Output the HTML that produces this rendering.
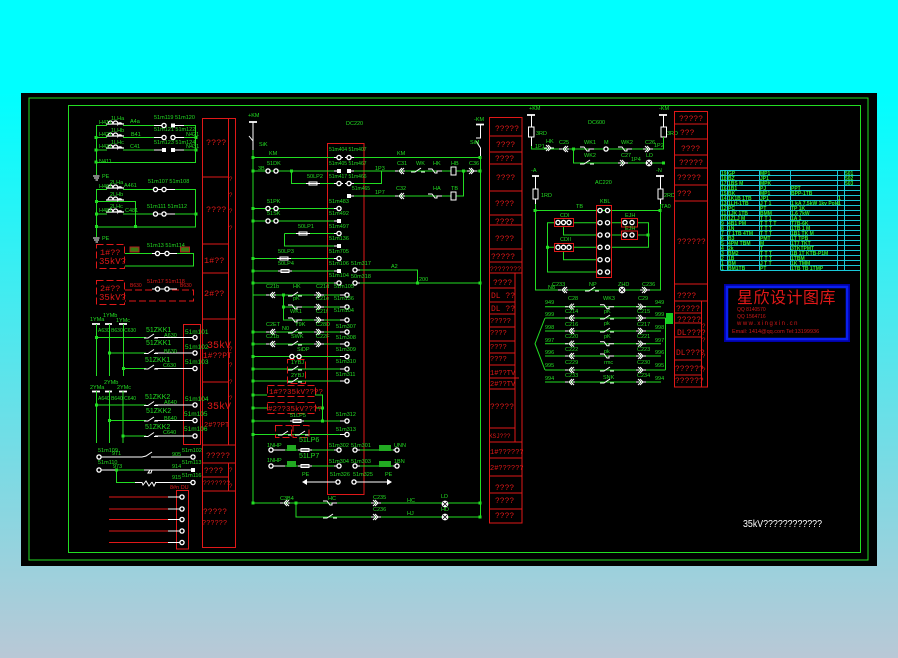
<!DOCTYPE html>
<html><head><meta charset="utf-8"><style>
html,body{margin:0;padding:0;width:898px;height:658px;overflow:hidden}
svg{display:block}
.g{stroke:#22dd22;fill:none;stroke-width:1}
.w{stroke:#fff;fill:none;stroke-width:1}
.r{stroke:#e01818;fill:none;stroke-width:1}
.d{stroke-dasharray:7 3}
text{font-family:"Liberation Sans","Noto Sans CJK SC",sans-serif;stroke:none}
.tg text,text.tg{fill:#22dd22;font-size:5.5px}
.tr text,text.tr{fill:#e01818;font-size:8.5px;font-family:"Liberation Mono",monospace}
</style></head><body>
<svg width="898" height="658" viewBox="0 0 898 658" xmlns="http://www.w3.org/2000/svg">
<defs>
<linearGradient id="bg" x1="0" y1="0" x2="0" y2="1"><stop offset="0" stop-color="#00ffff"/><stop offset=".14" stop-color="#00ffff"/><stop offset="1" stop-color="#b9c8d6"/></linearGradient>
<g id="t"><circle r="2.1" fill="#000" stroke="#fff" stroke-width="1.3"/></g>
<g id="q"><rect x="-2" y="-2" width="4" height="4" fill="#fff"/></g>
<g id="n"><rect x="-1.5" y="-1.5" width="3" height="3" fill="#22dd22"/></g>
<g id="c" class="w"><path d="M-5 0H-2M2 -3L-1 0L2 3M4 -3L1 0L4 3M3 0H5"/></g>
<g id="a" class="w"><path d="M-5 0H-2M-3 -3L0 0L-3 3M-1 -3L2 0L-1 3M1 0H5"/></g>
<g id="s" class="w"><path d="M-7 1H-3L3 -3M3 1H7"/></g>
<g id="b" class="w"><path d="M-7 -2H-3L0 2H2V0H7"/></g>
<g id="f" class="w"><rect x="-4" y="-1.5" width="8" height="3" fill="#000"/><path d="M-7 0H7"/></g>
<g id="k" class="w"><path d="M-9 0H9M-7 0A2.5 3 0 0 1 -2 0A2.5 3 0 0 1 3 0A2.5 3 0 0 1 7 0" stroke-width="1.3"/></g>
<g id="l"><circle r="3.4" fill="#fff"/><path d="M-2 -2L2 2M-2 2L2 -2" stroke="#000" stroke-width=".8"/></g>
</defs>
<rect width="898" height="658" fill="url(#bg)"/>
<rect x="21" y="93" width="856" height="473" fill="#000"/>
<rect x="29" y="98" width="839" height="462" class="g"/>
<rect x="68.5" y="105.5" width="792" height="447" class="g"/>

<path class="r" d="M202.5 118.5H235.5V547.5H202.5ZM228.5 118.5V445M202 177H228M202 244H228M202 273H228M202 319H235M202 382H228M202 445H235M202 463H235M202 477H228M202 491H235M228.5 463V491"/>
<g class="tr">
<text x="206" y="145">????</text><text x="206" y="212">????</text><text x="204" y="263">1#??</text><text x="204" y="296">2#??</text>
<text x="207" y="348" style="font-size:10px">35kV</text><text x="203" y="358" style="font-size:8px">1#??PT</text>
<text x="207" y="409" style="font-size:10px">35kV</text><text x="204" y="427" style="font-size:7px">2#??PT</text>
<text x="206" y="458" style="font-size:8px">?????</text><text x="204" y="473" style="font-size:8px">????</text><text x="203" y="485" style="font-size:6.5px">???????</text>
<text x="203" y="514" style="font-size:8px">?????</text><text x="202" y="525" style="font-size:7px">??????</text>
<text x="229" y="181" style="font-size:6px">?</text><text x="229" y="197" style="font-size:6px">?</text><text x="229" y="213" style="font-size:6px">?</text><text x="229" y="230" style="font-size:6px">?</text>
<text x="229" y="351" style="font-size:6px">?</text><text x="229" y="367" style="font-size:6px">?</text><text x="229" y="384" style="font-size:6px">?</text><text x="229" y="400" style="font-size:6px">?</text>
<text x="229" y="472" style="font-size:6px">?</text><text x="229" y="488" style="font-size:6px">?</text>
</g>

<path class="g" d="M96.5 125.5V175M96 125.5H107M123 125.5H154M184 125.5H195.5V162.5H96M96 137.5H107M123 137.5H154M184 137.5H196M96 150H107M123 150H154M184 150H196"/>
<use href="#k" x="115" y="124"/><use href="#k" x="115" y="136"/><use href="#k" x="115" y="148"/>
<path class="w" d="M154 125.5H164M173 125.5H184M154 137.5H164M173 137.5H184M154 150H164M173 150H184M93 176H99.5M94 178H99M95.5 180H98" stroke-width="1.2"/>
<use href="#t" x="164" y="125.5"/><use href="#q" x="173" y="125.5"/><use href="#t" x="164" y="137.5"/><use href="#t" x="173" y="137.5"/><use href="#q" x="164" y="150"/><use href="#q" x="173" y="150"/>
<use href="#n" x="96" y="137.5"/><use href="#n" x="96" y="150"/><use href="#n" x="96" y="162"/><use href="#n" x="196" y="137.5"/><use href="#n" x="196" y="150"/>
<g class="tg">
<text x="111" y="120">1LHa</text><text x="99" y="124">H411</text><text x="130" y="123">A4a</text><text x="154" y="119">51m119 51m120</text>
<text x="111" y="132">1LHb</text><text x="99" y="136">H421</text><text x="131" y="136">B41</text><text x="154" y="131">51m121 51m122</text>
<text x="111" y="144">1LHc</text><text x="99" y="148">H431</text><text x="130" y="148">C41</text><text x="154" y="144">51m123 51m124</text>
<text x="99" y="163">N411</text><text x="102" y="178">PE</text>
<text x="186" y="136">N421</text><text x="186" y="148">N431</text>
</g>

<path class="g" d="M96.5 189.5V237M96 189.5H107M123 189.5H155M173 189.5H195.5V227H96M96 201.5H135.5V227M96 214H107M123 214H155M173 214H196"/>
<use href="#k" x="115" y="188"/><use href="#k" x="115" y="200"/><use href="#k" x="115" y="212"/>
<path class="w" d="M155 189.5H175M155 214H175M93 238H99.5M94 240H99M95.5 242H98" stroke-width="1.2"/>
<use href="#t" x="155.500" y="189.500"/><use href="#t" x="164" y="189.500"/><use href="#t" x="155.500" y="214"/><use href="#t" x="164" y="214"/>
<use href="#n" x="96.500" y="201.500"/><use href="#n" x="96.500" y="214"/><use href="#n" x="96.500" y="226.500"/><use href="#n" x="135.500" y="226.500"/><use href="#n" x="196" y="214"/>
<g class="tg">
<text x="110" y="184">2LHa</text><text x="99" y="188">H461</text><text x="124" y="187">A461</text><text x="148" y="183">51m107 51m108</text>
<text x="110" y="196">2LHb</text><text x="110" y="208">2LHc</text><text x="99" y="212">H481</text><text x="125" y="212">C481</text><text x="147" y="208">51m111 51m112</text>
<text x="102" y="240">PE</text>
</g>

<rect x="96.500" y="244.500" width="28" height="24" class="r d"/>
<rect x="96.500" y="280.500" width="28" height="24" class="r d"/>
<path class="g" d="M125 253.500H152M172 253.500H193.500V266H125"/>
<path class="r d" d="M125 290H152M172 290H193.500V301H125"/>
<path class="w" d="M152 253.500H177M152 289H177"/>
<use href="#t" x="157.500" y="253.500"/><use href="#t" x="167" y="253.500"/><use href="#t" x="157.500" y="289"/><use href="#t" x="167" y="289"/>
<rect x="130" y="247" width="9" height="5" fill="#3a7a10" stroke="#b02020"/><rect x="180.500" y="247" width="9" height="5" fill="#3a7a10" stroke="#b02020"/>
<g class="tr">
<text x="100" y="255" style="font-size:8.500px">1#??</text><text x="99" y="264" style="font-size:9px">35kV?</text>
<text x="100" y="291" style="font-size:8.500px">2#??</text><text x="99" y="300" style="font-size:9px">35kV?</text>
</g>
<text class="tg" x="147" y="247">51m13 51m114</text>
<text x="147" y="283" fill="#e01818" style="font-size:5.500px">51m17 51m118</text>
<text x="130" y="287" fill="#e01818" style="font-size:5px">B630</text><text x="180" y="287" fill="#e01818" style="font-size:5px">B630</text>

<rect x="183.500" y="324.500" width="17" height="120" class="r"/>
<path stroke="#fff" stroke-width="1.800" fill="none" d="M92 324H100M105 324H112M119 324H127M92 391.500H100M105 391.500H112M119 391.500H127"/>
<path class="g" d="M96.500 324V376M109.500 324V376M123.500 324V376M96.500 337.500H146M109.500 353H146M123.500 368.500H146M96.500 391V443M109.500 391V443M123 391V443M96.500 405H146M109.500 420.500H146M123 436H146"/>
<path class="w" d="M155 337.500H193M155 353H193M155 368.500H193M155 405H193M155 420.500H193M155 436H193"/>
<use href="#s" x="151" y="337"/><use href="#s" x="151" y="352.500"/><use href="#s" x="151" y="368"/><use href="#s" x="151" y="404.500"/><use href="#s" x="151" y="420"/><use href="#s" x="151" y="435.500"/>
<use href="#t" x="195" y="337.500"/><use href="#t" x="195" y="353"/><use href="#t" x="195" y="368.500"/><use href="#t" x="195" y="405"/><use href="#t" x="195" y="420.500"/><use href="#t" x="195" y="436"/>
<use href="#n" x="96.500" y="337.500"/><use href="#n" x="109.500" y="353"/><use href="#n" x="123.500" y="368.500"/><use href="#n" x="96.500" y="405"/><use href="#n" x="109.500" y="420.500"/><use href="#n" x="123" y="436"/>
<g class="tg">
<text x="90" y="321">1YMa</text><text x="103" y="317">1YMb</text><text x="116" y="322">1YMc</text>
<text x="98" y="332" style="font-size:5px">A630 B630 C630</text>
<text x="90" y="389">2YMa</text><text x="104" y="384">2YMb</text><text x="117" y="389">2YMc</text>
<text x="98" y="400" style="font-size:5px">A640 B640 C640</text>
<text x="146" y="332" style="font-size:7px">51ZKK1</text><text x="146" y="345" style="font-size:7px">51ZKK1</text><text x="145" y="362" style="font-size:7px">51ZKK1</text>
<text x="164" y="337">A630</text><text x="164" y="353">B630</text><text x="163" y="367">C630</text>
<text x="185" y="334" style="font-size:6.500px">51m101</text><text x="185" y="349" style="font-size:6.500px">51m102</text><text x="185" y="364" style="font-size:6.500px">51m103</text>
<text x="145" y="399" style="font-size:7px">51ZKK2</text><text x="146" y="413" style="font-size:7px">51ZKK2</text><text x="145" y="429" style="font-size:7px">51ZKK2</text>
<text x="164" y="404">A640</text><text x="164" y="420">B640</text><text x="163" y="434">C640</text>
<text x="185" y="401" style="font-size:6.500px">51m104</text><text x="184" y="416" style="font-size:6.500px">51m105</text><text x="184" y="431" style="font-size:6.500px">51m106</text>
</g>

<path class="w" d="M99 457H142L146 456L152 452M151 457H193M99 470H116M144 470H193M116 482.500H136M155 482.500H193"/>
<path class="g" d="M116.500 470V482.500H135M116 470H144"/>
<path class="w" d="M144 470H150L148 473H151L152 470M136 482.500H142L143 485L146 481L149 486L152 482M152 482L154 486L156 482"/>
<use href="#t" x="99" y="457"/><use href="#t" x="99" y="470"/><use href="#t" x="193" y="457"/><use href="#q" x="193" y="470"/><use href="#t" x="193" y="482.500"/><use href="#n" x="116.500" y="470"/>
<g class="tg">
<text x="98" y="452">51m109</text><text x="112" y="455">971</text><text x="98" y="464">51m110</text><text x="113" y="468">973</text>
<text x="172" y="456">905</text><text x="172" y="468">914</text><text x="172" y="479">915</text>
<text x="182" y="452">51m102</text><text x="182" y="464">51m113</text><text x="182" y="477">51m116</text>
</g>

<rect x="176.500" y="490.500" width="12" height="58.500" class="r"/>
<path class="r" d="M109 497H168M109 509H168M109 519.500H168M109 531H168M109 542.500H168"/>
<path class="w" d="M168 497H181M168 509H181M168 519.500H181M168 531H181M168 542.500H181"/>
<use href="#t" x="182" y="497"/><use href="#t" x="182" y="509"/><use href="#t" x="182" y="519.500"/><use href="#t" x="182" y="531"/><use href="#t" x="182" y="542.500"/>
<text x="170" y="489" fill="#e01818" style="font-size:5.500px">8#n DU</text>

<rect x="327.500" y="143.500" width="36.500" height="351" class="r"/>
<path stroke="#fff" stroke-width="1.800" d="M249 122H257M476 124.500H484"/>
<path class="w" d="M253 122V141L249 136M253 141V150M480.500 124.500V138H476M476 141L480.500 148V157"/>
<path class="g" d="M253 150V503M480.500 157V517"/>
<g class="g">
<path d="M253 157.500H334M354 157.500H480M253 171H334M354 171H480M291.500 171V183.500H334M354 183.500H381.500V171M354 196H463.500V171M253 208.500H334M253 221H334M284.500 233.500H334M284.500 233.500V246H334M253 258.500H334M253 271H334M253 283H334M360 270H417.500V283M360 283H480M253 295H340M283.500 295V320H340M283.500 307H340M253 332H340M253 344H340M253 356.500H340M253 369H340M253 381H340M253 395H267M253 408H267M315 395H322.500V421M315 408H322.500M253 421H340M253 434.500H340M253 503H480M296 503V517H480"/>
<path d="M285 450H334M360 450H393M285 466H334M360 466H393"/>
</g>
<path class="w" d="M334 157.500H343M345 157.500H354M334 171H339M349 171H354M334 183.500H343M345 183.500H354M349 196H354M334 208.500H339M334 221H339M334 233.500H339M334 246H339M334 258.500H339M334 271H339M334 283H339M355 270H360M355 283H360M340 295H347M340 307H347M340 320H347M340 332H347M340 344H347M340 356.500H347M340 369H347M340 381H347M340 421H347M340 434.500H347M334 450H339M355 450H360M334 466H339M355 466H360M271 450H285M271 466H285M393 450H397M393 466H397M303 482H338M354 482H391"/>
<use href="#t" x="339" y="157.500"/><use href="#t" x="349" y="157.500"/><use href="#q" x="339" y="171"/><use href="#q" x="349" y="171"/><use href="#t" x="339" y="183.500"/><use href="#t" x="349" y="183.500"/><use href="#q" x="349" y="196"/>
<use href="#t" x="339" y="208.500"/><use href="#q" x="339" y="221"/><use href="#t" x="339" y="233.500"/><use href="#q" x="339" y="246"/><use href="#t" x="339" y="258.500"/><use href="#q" x="339" y="271"/><use href="#t" x="339" y="283"/><use href="#t" x="355" y="270"/><use href="#t" x="355" y="283"/>
<use href="#t" x="347" y="295"/><use href="#t" x="347" y="307"/><use href="#t" x="347" y="320"/><use href="#t" x="347" y="332"/><use href="#t" x="347" y="344"/><use href="#t" x="347" y="356.500"/><use href="#t" x="347" y="369"/><use href="#t" x="347" y="381"/><use href="#t" x="347" y="421"/><use href="#t" x="347" y="434.500"/>
<use href="#t" x="339" y="450"/><use href="#t" x="355" y="450"/><use href="#t" x="339" y="466"/><use href="#t" x="355" y="466"/><use href="#t" x="271" y="450"/><use href="#t" x="397" y="450"/><use href="#t" x="271" y="466"/><use href="#t" x="397" y="466"/><use href="#t" x="338" y="482"/><use href="#t" x="354" y="482"/>
<path fill="#fff" d="M302 482L307 479V485ZM392 482L387 479V485Z"/>
<use href="#t" x="268" y="171"/><use href="#t" x="276" y="171"/><use href="#t" x="268" y="208.500"/><use href="#t" x="276" y="208.500"/><use href="#t" x="268" y="221"/><use href="#t" x="276" y="221"/><use href="#t" x="292" y="356.500"/><use href="#t" x="299" y="356.500"/>
<use href="#c" x="400" y="171"/><use href="#s" x="418" y="171"/><use href="#b" x="435" y="171"/><rect x="451" y="167" width="5" height="8" fill="#000" stroke="#fff"/><use href="#a" x="472" y="171"/>
<use href="#c" x="400" y="196"/><use href="#b" x="435" y="196"/><rect x="451" y="192" width="5" height="8" fill="#000" stroke="#fff"/>
<use href="#f" x="313" y="183.500"/><use href="#f" x="303" y="233.500"/><use href="#f" x="284" y="258.500"/><use href="#f" x="285" y="271"/>
<use href="#c" x="271" y="295"/><use href="#s" x="295" y="295"/><use href="#a" x="319" y="295"/><use href="#b" x="295" y="307"/><use href="#a" x="319" y="307"/><use href="#b" x="295" y="320"/><use href="#a" x="319" y="320"/>
<use href="#c" x="271" y="332"/><use href="#s" x="295" y="332"/><use href="#a" x="319" y="332"/><use href="#c" x="271" y="344"/><use href="#s" x="295" y="344"/><use href="#a" x="319" y="344"/>
<use href="#s" x="295" y="369"/><use href="#s" x="295" y="381"/><use href="#f" x="297" y="421"/><use href="#f" x="305" y="450"/><use href="#f" x="305" y="466"/>
<use href="#s" x="285" y="434"/><use href="#s" x="302" y="434"/>
<use href="#c" x="285" y="503"/><use href="#b" x="330" y="503"/><use href="#s" x="330" y="517"/><use href="#a" x="376" y="503"/><use href="#a" x="376" y="517"/><use href="#l" x="445" y="504"/><use href="#l" x="445" y="517"/>
<g fill="#22dd22"><use href="#n" x="253" y="157.500"/><use href="#n" x="253" y="171"/><use href="#n" x="291.500" y="171"/><use href="#n" x="463.500" y="171"/><use href="#n" x="480" y="171"/><use href="#n" x="480" y="157.500"/><use href="#n" x="253" y="208.500"/><use href="#n" x="253" y="221"/><use href="#n" x="253" y="258.500"/><use href="#n" x="253" y="271"/><use href="#n" x="253" y="283"/><use href="#n" x="417.500" y="283"/><use href="#n" x="480" y="283"/><use href="#n" x="283.500" y="295"/><use href="#n" x="283.500" y="307"/><use href="#n" x="253" y="332"/><use href="#n" x="253" y="344"/><use href="#n" x="253" y="356.500"/><use href="#n" x="253" y="369"/><use href="#n" x="253" y="381"/><use href="#n" x="253" y="395"/><use href="#n" x="253" y="408"/><use href="#n" x="322.500" y="408"/><use href="#n" x="322.500" y="421"/><use href="#n" x="253" y="421"/><use href="#n" x="253" y="434.500"/><use href="#n" x="253" y="503"/><use href="#n" x="296" y="503"/><use href="#n" x="480" y="503"/><use href="#n" x="480" y="517"/></g>
<rect x="287.500" y="359.500" width="18" height="24" class="r d"/>
<rect x="267.500" y="385.500" width="48" height="11" class="r d"/>
<rect x="267.500" y="402.500" width="48" height="11" class="r d"/>
<rect x="275.500" y="425.500" width="16" height="12" class="r d"/><rect x="293" y="425.500" width="16" height="12" class="r d"/>
<g class="tr">
<text x="269" y="394" style="font-size:7.500px">1#??35kV????</text>
<text x="268" y="411" style="font-size:7.500px">#2??35kV????</text>
</g>
<rect x="287" y="445" width="9" height="6" fill="#22aa22"/><rect x="287" y="461" width="9" height="6" fill="#22aa22"/><rect x="379" y="445" width="12" height="6" fill="#22aa22"/><rect x="379" y="461" width="12" height="6" fill="#22aa22"/>
<g class="tg">
<text x="346" y="125">DC220</text><text x="259" y="146">SiK</text><text x="248" y="117">+KM</text><text x="474" y="121">-KM</text><text x="470" y="144">SiM</text>
<text x="269" y="155">KM</text><text x="397" y="155">KM</text><text x="258" y="170">3B</text><text x="267" y="165">51DK</text>
<text x="329" y="151" style="font-size:5px">51m404 51m407</text><text x="329" y="165" style="font-size:5px">51m405 51m467</text><text x="307" y="178">50LP2</text><text x="329" y="178" style="font-size:5px">51m417 51m466</text><text x="352" y="190" style="font-size:5px">51m465</text>
<text x="375" y="170">1P3</text><text x="375" y="194">1P7</text>
<text x="397" y="165">C31</text><text x="416" y="165">WK</text><text x="433" y="165">HK</text><text x="451" y="165">HB</text><text x="469" y="165">C36</text>
<text x="396" y="190">C32</text><text x="433" y="190">HA</text><text x="451" y="190">TB</text>
<text x="267" y="203">51PK</text><text x="267" y="215">51SK</text><text x="329" y="203">51m483</text><text x="329" y="215">51m492</text><text x="329" y="228">51m497</text><text x="329" y="240">51m136</text>
<text x="298" y="228">50LP1</text><text x="278" y="253">50LP3</text><text x="278" y="265">50LP4</text><text x="329" y="253">51m705</text><text x="329" y="265">51m106</text><text x="329" y="277">51m104</text>
<text x="351" y="265">51m317</text><text x="351" y="278">50m318</text><text x="391" y="268">A2</text><text x="419" y="281">200</text>
<text x="266" y="288">C21b</text><text x="293" y="288">HK</text><text x="316" y="288">C21d</text><text x="334" y="288">51m105</text><text x="334" y="300">51m136</text><text x="334" y="312">51m104</text>
<text x="293" y="300">pK</text><text x="316" y="300">C21e</text><text x="290" y="313">WK1</text><text x="316" y="313">C21f</text>
<text x="266" y="326">C2ET</text><text x="282" y="330">N0</text><text x="295" y="326">Y9K</text><text x="316" y="326">C28D</text><text x="336" y="328">51m307</text>
<text x="266" y="338">C21b</text><text x="291" y="338">SWK</text><text x="316" y="338">C22F</text><text x="336" y="339">51m308</text>
<text x="297" y="351">SiDP</text><text x="336" y="351">51m309</text><text x="336" y="363">51m310</text><text x="336" y="376">51m311</text>
<text x="291" y="364">1YBJ</text><text x="291" y="377">2YBJ</text>
<text x="290" y="417">51LP5</text><text x="336" y="416">51m312</text><text x="336" y="431">51m313</text>
<text x="299" y="442" style="font-size:7px">51LP6</text><text x="299" y="458" style="font-size:7px">51LP7</text>
<text x="267" y="447">1NHP</text><text x="267" y="462">1NHP</text><text x="329" y="447">51m302</text><text x="351" y="447">51m301</text><text x="329" y="463">51m304</text><text x="351" y="463">51m303</text>
<text x="394" y="447">UNN</text><text x="394" y="463">1BN</text>
<text x="302" y="476">PE</text><text x="330" y="476">51m326</text><text x="353" y="476">51m325</text><text x="385" y="476">PE</text>
<text x="280" y="500">C3B4</text><text x="328" y="500">HC</text><text x="373" y="499">C235</text><text x="373" y="511">C236</text><text x="407" y="502">HC</text><text x="407" y="515">HJ</text><text x="441" y="498">LD</text><text x="441" y="511">HD</text>
</g>

<path class="r" d="M489.500 117.500H522V523H489.500ZM489 136H522M489 152H522M489 164H522M489 191H522M489 215H522M489 225H522M489 249H522M489 262H522M489 273H522M489 288H515M489 302H515M489 314H515M489 327H515M489 341H515M489 353H515M489 365H515M489 378H519M489 389H515M489 428H515M489 442H522M489 458H522M489 476H522M489 493H522M489 509H522M515 273V442"/>
<g class="tr">
<text x="495" y="131" style="font-size:8px">?????</text><text x="496" y="147" style="font-size:8px">????</text><text x="495" y="161" style="font-size:8px">????</text><text x="496" y="180" style="font-size:8px">????</text><text x="495" y="206" style="font-size:8px">????</text><text x="495" y="224" style="font-size:8px">????</text><text x="495" y="241" style="font-size:8px">????</text>
<text x="491" y="259" style="font-size:8px">?????</text><text x="490" y="271" style="font-size:6.500px">????????</text><text x="493" y="285" style="font-size:8px">????</text><text x="491" y="298" style="font-size:8px">DL ??</text><text x="491" y="311" style="font-size:8px">DL ??</text>
<text x="490" y="323" style="font-size:7px">?????</text><text x="490" y="335" style="font-size:7px">????</text><text x="490" y="349" style="font-size:7px">????</text><text x="490" y="361" style="font-size:7px">????</text><text x="490" y="375" style="font-size:7px">1#??TV</text><text x="490" y="386" style="font-size:7px">2#??TV</text><text x="490" y="409" style="font-size:8px">?????</text><text x="489" y="438" style="font-size:6px">KSJ???</text><text x="490" y="454" style="font-size:7px">1#??????</text><text x="490" y="470" style="font-size:7px">2#??????</text><text x="495" y="490" style="font-size:8px">????</text><text x="495" y="503" style="font-size:8px">????</text><text x="495" y="518" style="font-size:8px">????</text>
</g>

<path stroke="#fff" stroke-width="1.800" d="M527 115H535M659 115H667M532 176H539M656 176H664"/>
<path class="w" d="M531.500 115V127M531.500 137V146M663.500 115V127M663.500 137V142M535.500 176V189M535.500 199V204M660.500 176V189M660.500 199V204"/>
<rect x="528.500" y="127" width="5.500" height="10" fill="#000" stroke="#fff"/><rect x="661" y="127" width="5.500" height="10" fill="#000" stroke="#fff"/><rect x="533" y="189" width="5" height="10" fill="#000" stroke="#fff"/><rect x="658" y="189" width="5" height="10" fill="#000" stroke="#fff"/>
<path class="g" d="M531.500 146V149H663.500V137M573.500 149V163H663.500M535.500 204V290H660.500V204M535 210.500H660M573 222.700H596M563.500 226V235H596M573 247.300H596M563.500 252V259.700H596M547.500 222.700V272H596M547 222.700H554M547 247.300H554M611 222.700H621M611 235H621M611 247.300H648.500V222.700H637M637 235H648"/>
<use href="#a" x="549" y="148"/><use href="#c" x="564" y="149"/><use href="#b" x="587" y="149"/><use href="#t" x="606" y="149"/><use href="#b" x="625" y="149"/><use href="#a" x="648" y="149"/><use href="#s" x="587" y="163"/><use href="#a" x="623" y="163"/><use href="#l" x="649" y="163"/><use href="#n" x="573.500" y="149"/><use href="#n" x="663.500" y="163"/>
<use href="#c" x="563" y="290"/><use href="#s" x="592" y="290"/><use href="#l" x="622" y="290"/><use href="#a" x="645" y="290"/>
<rect x="596.500" y="205.500" width="15" height="72" class="r"/>
<rect x="554.500" y="218.500" width="19" height="8" class="r"/><rect x="554.500" y="243.500" width="19" height="8" class="r"/>
<rect x="621.500" y="218.500" width="16" height="8.500" class="r"/><rect x="621.500" y="231" width="16" height="8.500" class="r"/>
<use href="#t" x="600" y="210.500"/><use href="#t" x="607.500" y="210.500"/><use href="#t" x="600" y="222.700"/><use href="#t" x="607.500" y="222.700"/><use href="#t" x="600" y="235"/><use href="#t" x="607.500" y="235"/><use href="#t" x="600" y="247.300"/><use href="#t" x="607.500" y="247.300"/><use href="#t" x="600" y="259.700"/><use href="#t" x="607.500" y="259.700"/><use href="#t" x="600" y="272"/><use href="#t" x="607.500" y="272"/>
<use href="#t" x="558" y="222.500"/><use href="#t" x="563.500" y="222.500"/><use href="#t" x="569" y="222.500"/><use href="#t" x="558" y="247.300"/><use href="#t" x="563.500" y="247.300"/><use href="#t" x="569" y="247.300"/>
<use href="#t" x="625" y="222.500"/><use href="#t" x="632" y="222.500"/><use href="#t" x="625" y="235"/><use href="#t" x="632" y="235"/>
<use href="#n" x="535" y="210.500"/><use href="#n" x="660" y="210.500"/><use href="#n" x="547.500" y="247.300"/><use href="#n" x="648" y="235"/>
<g class="tg">
<text x="529" y="110">+KM</text><text x="659" y="110">-KM</text><text x="588" y="124">DC600</text><text x="536" y="135">3RD</text><text x="667" y="135">3RD</text><text x="535" y="148">1P1</text><text x="546" y="143">HK</text><text x="559" y="144">C25</text><text x="584" y="144">WK1</text><text x="604" y="144">M</text><text x="621" y="144">WK2</text><text x="645" y="144">C26</text><text x="654" y="147">1P2</text>
<text x="584" y="157">WK2</text><text x="621" y="157">C27</text><text x="631" y="161">1P4</text><text x="646" y="157">LD</text>
<text x="531" y="172">-A</text><text x="656" y="172">-N</text><text x="595" y="184">AC220</text><text x="541" y="197">1RD</text><text x="664" y="197">2RD</text><text x="576" y="208">TB</text><text x="661" y="208">TA0</text>
<text x="600" y="203">KBL</text><text x="560" y="217">CDI</text><text x="560" y="241">CDII</text><text x="625" y="217">EJH</text><text x="625" y="230">EJH</text>
<text x="552" y="286">C233</text><text x="589" y="286">NP</text><text x="618" y="286">ZHD</text><text x="642" y="286">C236</text><text x="548" y="289">N8</text>
</g>

<path class="g" d="M545 306.700H661M545 318H665.500M545 331H661M545 343.700H661M545 356H661M545 370H665.500M545 382H661M545 318L535 343.700L545 370M665.500 318V370"/>
<use href="#c" x="570" y="306.700"/><use href="#b" x="607" y="306.700"/><use href="#a" x="641" y="306.700"/>
<use href="#c" x="570" y="318"/><use href="#s" x="607" y="318"/><use href="#a" x="641" y="318"/>
<use href="#c" x="570" y="331"/><use href="#s" x="607" y="331"/><use href="#a" x="641" y="331"/>
<use href="#c" x="570" y="343.700"/><use href="#b" x="607" y="343.700"/><use href="#a" x="641" y="343.700"/>
<use href="#c" x="570" y="356"/><use href="#b" x="607" y="356"/><use href="#a" x="641" y="356"/>
<use href="#c" x="570" y="370"/><use href="#s" x="607" y="370"/><use href="#a" x="641" y="370"/>
<use href="#c" x="570" y="382"/><use href="#s" x="607" y="382"/><use href="#a" x="641" y="382"/>
<rect x="666" y="313" width="7" height="11" fill="#11cc22"/>
<g class="tg">
<text x="545" y="304">949</text><text x="568" y="300">C28</text><text x="603" y="300">WK3</text><text x="638" y="300">C29</text><text x="655" y="304">949</text>
<text x="565" y="313">C214</text><text x="604" y="313">pK</text><text x="637" y="313">C215</text><text x="545" y="316">999</text><text x="655" y="316">999</text>
<text x="565" y="326">C216</text><text x="604" y="325">pk</text><text x="637" y="326">C217</text><text x="545" y="329">998</text><text x="655" y="329">998</text>
<text x="565" y="338">C220</text><text x="604" y="338">pK</text><text x="637" y="338">C221</text><text x="545" y="342">997</text><text x="655" y="342">997</text>
<text x="565" y="351">C222</text><text x="604" y="353">pk</text><text x="637" y="351">C223</text><text x="545" y="354">996</text><text x="655" y="354">996</text>
<text x="565" y="364">C229</text><text x="604" y="364">rmc</text><text x="637" y="364">C230</text><text x="545" y="367">995</text><text x="655" y="367">995</text>
<text x="565" y="377">C233</text><text x="603" y="379">SNK</text><text x="637" y="377">C234</text><text x="545" y="380">994</text><text x="655" y="380">994</text>
</g>

<path class="r" d="M674.500 111.500H707.500V387H674.500ZM674 124H708M674 139H708M674 155H708M674 168H708M674 185H708M674 201H708M674 284H708M674 301H708M701.500 301V387M674 313H701M674 323H701M674 337H701M674 360H701M674 375H701"/>
<g class="tr">
<text x="679" y="121" style="font-size:8px">?????</text><text x="680" y="135" style="font-size:8px">???</text><text x="681" y="151" style="font-size:8px">????</text><text x="679" y="165" style="font-size:8px">?????</text><text x="677" y="180" style="font-size:8px">?????</text><text x="677" y="196" style="font-size:8px">???</text><text x="677" y="244" style="font-size:8px">??????</text>
<text x="677" y="298" style="font-size:8px">????</text><text x="676" y="311" style="font-size:8px">?????</text><text x="677" y="322" style="font-size:8px">?????</text><text x="677" y="335" style="font-size:8px">DL????</text><text x="676" y="355" style="font-size:8px">DL????</text><text x="675" y="371" style="font-size:8px">??????</text><text x="675" y="383" style="font-size:8px">??????</text>
<text x="702" y="328" style="font-size:6px">?</text><text x="702" y="342" style="font-size:6px">?</text><text x="702" y="358" style="font-size:6px">?</text><text x="702" y="372" style="font-size:6px">?</text>
</g>

<path stroke="#19c8d8" fill="none" d="M720.500 170.500H860M720.500 175.500H860M720.500 180.500H860M720.500 185.500H860M720.500 190.500H860M720.500 195.500H860M720.500 200.500H860M720.500 205.500H860M720.500 210.500H860M720.500 215.500H860M720.500 220.500H860M720.500 225.500H860M720.500 230.500H860M720.500 235.500H860M720.500 240.500H860M720.500 245.500H860M720.500 250.500H860M720.500 255.500H860M720.500 260.500H860M720.500 265.500H860M720.500 270.500H860M720.500 170V270M727.500 170V270M759.500 170V270M790.500 170V270M837.500 170V270M844.500 170V270"/>
<g fill="#2fe62f" style="font-size:5px;font-weight:bold">
<text x="721" y="175">19</text><text x="728" y="175">GP</text><text x="760" y="175">MP1</text><text x="845" y="175">501</text>
<text x="721" y="180">18</text><text x="728" y="180">BZ</text><text x="760" y="180">JP1</text><text x="845" y="180">502</text>
<text x="721" y="185">17</text><text x="728" y="185">1BS M</text><text x="760" y="185">MPK</text><text x="845" y="185">503</text>
<text x="721" y="190">16</text><text x="728" y="190">1B1</text><text x="760" y="190">PJ</text><text x="791" y="190">PPT</text>
<text x="721" y="195">15</text><text x="728" y="195">BK</text><text x="760" y="195">MP1</text><text x="791" y="195">BPP-1TB</text>
<text x="721" y="200">14</text><text x="728" y="200">1K1B 1TB</text><text x="760" y="200">JP1</text><text x="838" y="200">1</text>
<text x="721" y="205">13</text><text x="728" y="205">1LH-1TB</text><text x="760" y="205">J T 1</text><text x="791" y="205">1 kA  7.5kW 1kv Pole</text><text x="838" y="205">1</text>
<text x="721" y="210">12</text><text x="728" y="210">PC</text><text x="760" y="210">PT</text><text x="791" y="210">TP 1K</text>
<text x="721" y="215">11</text><text x="728" y="215">1JK 1TB</text><text x="760" y="215">BMM</text><text x="791" y="215">1.6 7kW</text>
<text x="721" y="220">10</text><text x="728" y="220">1ZLJ M</text><text x="760" y="220">T T 1</text><text x="791" y="220">1A 1</text>
<text x="721" y="225">9</text><text x="728" y="225">4B1 PM</text><text x="760" y="225">T T T T</text><text x="791" y="225">T7B-6K</text>
<text x="721" y="230">8</text><text x="728" y="230">1N</text><text x="760" y="230">T T T</text><text x="791" y="230">1TB 1 M</text>
<text x="721" y="235">7</text><text x="728" y="235">7 1TB 4TM</text><text x="760" y="235">T T T</text><text x="791" y="235">1B1 TK M</text>
<text x="721" y="240">6</text><text x="728" y="240">B3</text><text x="760" y="240">PMT</text><text x="791" y="240">1T TPB</text>
<text x="721" y="245">5</text><text x="728" y="245">4PM TBM</text><text x="760" y="245">M</text><text x="791" y="245">1T7 TKT</text>
<text x="721" y="250">4</text><text x="728" y="250">2k</text><text x="760" y="250">T</text><text x="791" y="250">3TKTPMT</text>
<text x="721" y="255">3</text><text x="728" y="255">BM2</text><text x="760" y="255">T T T</text><text x="791" y="255">1B 1T KTB-P1M</text>
<text x="721" y="260">2</text><text x="728" y="260">1B</text><text x="760" y="260">T T T</text><text x="791" y="260">1TBM</text>
<text x="721" y="265">1</text><text x="728" y="265">BM</text><text x="760" y="265">J T T</text><text x="791" y="265">1K TMM</text>
<text x="721" y="270">1</text><text x="728" y="270">BM1TB</text><text x="760" y="270">PT</text><text x="791" y="270">1TB TB 1TMP</text>
</g>

<rect x="725" y="285" width="124" height="56" fill="none" stroke="#0000a8" stroke-width="2"/>
<rect x="727" y="287" width="120" height="52" fill="#000" stroke="#0a20f0" stroke-width="2.500"/>
<text x="737" y="303" fill="#e01818" style="font-size:16px;letter-spacing:0.500px;font-family:'Noto Sans CJK SC',sans-serif">星欣设计图库</text>
<g fill="#d01818" style="font-size:5px">
<text x="737" y="311">QQ 8140570</text><text x="737" y="318">QQ 1564716</text><text x="737" y="325" style="font-size:6px;letter-spacing:1.500px">www.xingxin.cn</text>
<text x="732" y="333" style="font-size:5.500px">Email: 1414@qq.com  Tel:13199936</text>
</g>

<text x="743" y="527" fill="#fff" style="font-size:10px" textLength="79" lengthAdjust="spacingAndGlyphs">35kV????????????</text>
</svg>
</body></html>
